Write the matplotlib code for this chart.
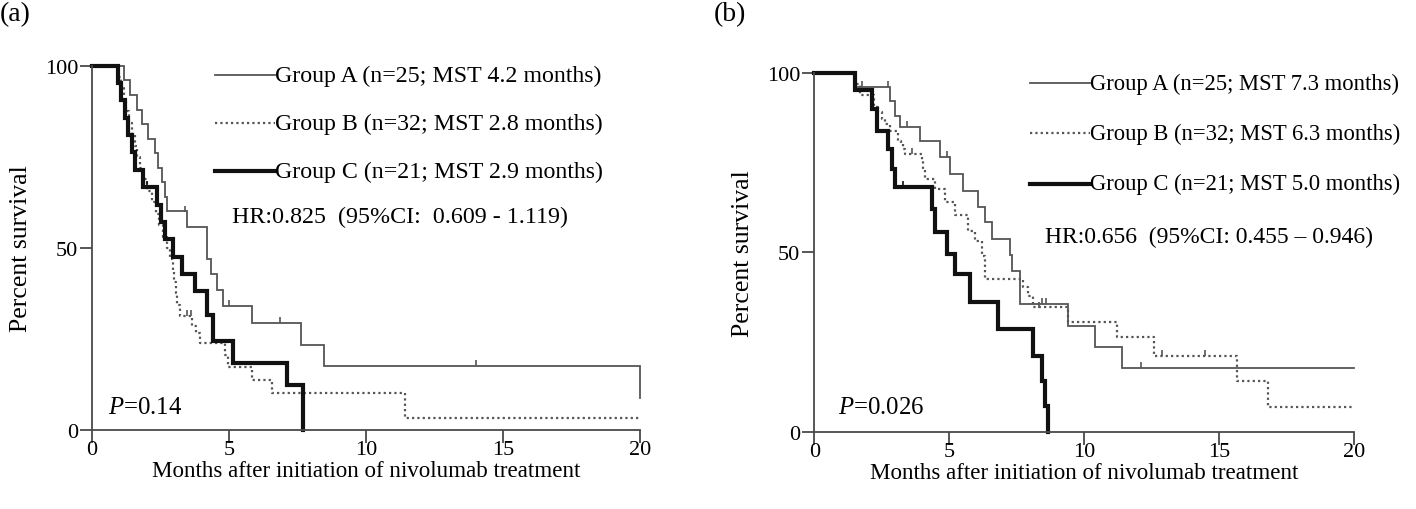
import numpy as np
import matplotlib
matplotlib.use('Agg')
import matplotlib.pyplot as plt

plt.rcParams['font.family'] = ['Liberation Serif', 'DejaVu Serif']
plt.rcParams['mathtext.fontset'] = 'custom'
plt.rcParams['mathtext.rm'] = 'Liberation Serif'
plt.rcParams['mathtext.it'] = 'Liberation Serif:italic'

# ---- panel (a) : step times (months) and survival (%) ----
a_A_time = [0, 1.18, 1.39, 1.65, 1.81, 2.06, 2.30, 2.40, 2.54, 2.66, 2.75, 3.45, 4.18, 4.35, 4.55, 4.79, 5.83, 7.62, 8.48, 20.0]
a_A_surv = [100, 96, 92, 88, 84, 80, 76, 72, 68, 64, 60, 55.6, 47.0, 42.7, 38.4, 34.1, 29.3, 23.4, 17.5, 8.8]
a_A_cens = [3.40, 5.01, 6.86, 14.0]

a_B_time = [0, 0.95, 1.05, 1.15, 1.25, 1.35, 1.45, 1.55, 1.65, 1.75, 1.85, 2.0, 2.2, 2.35, 2.45, 2.6, 2.75, 2.85,
            2.95, 3.0, 3.05, 3.1, 3.2, 3.65, 3.8, 3.95, 4.85, 4.97, 5.83, 6.56, 11.42, 20.0]
a_B_surv = [100, 96.9, 93.8, 90.6, 87.5, 84.4, 81.3, 78.1, 75.0, 71.9, 68.8, 65.6, 62.5, 59.4, 56.3, 53.1, 50.0, 46.9,
            43.8, 40.6, 37.5, 34.4, 31.3, 28.5, 26.5, 23.8, 20.5, 17.2, 13.8, 10.1, 3.2, 3.2]
a_B_cens = [3.45, 3.6]

a_C_time = [0, 0.95, 1.05, 1.2, 1.3, 1.45, 1.55, 1.87, 2.36, 2.5, 2.66, 2.97, 3.27, 3.76, 4.2, 4.4, 5.13, 7.1, 7.69]
a_C_surv = [100, 95.2, 90.5, 85.7, 81.0, 76.2, 71.4, 66.7, 61.9, 57.1, 52.4, 47.6, 42.9, 38.1, 31.5, 24.5, 18.5, 12.3, 0]
a_C_cens = [2.0]

# ---- panel (b) ----
b_A_time = [0, 1.48, 2.81, 3.0, 3.19, 3.93, 4.67, 5.04, 5.53, 6.09, 6.33, 6.58, 7.25, 7.35, 7.63, 9.42, 10.41, 11.4, 20.0]
b_A_surv = [100, 96, 92.3, 88.1, 84.9, 81.1, 76.5, 71.9, 67.2, 62.6, 58.4, 53.8, 49.4, 44.9, 35.7, 29.6, 23.6, 17.8, 17.8]
b_A_cens = [1.77, 2.75, 3.43, 4.91, 8.45, 8.6, 12.1]

b_B_time = [0, 1.50, 1.70, 2.20, 2.38, 2.51, 2.63, 2.81, 3.12, 3.20, 3.30, 3.37, 3.99, 4.05, 4.11, 4.48, 4.85, 5.22,
            5.70, 5.96, 6.21, 6.33, 7.75, 7.94, 8.12, 9.42, 11.21, 12.6, 15.66, 16.83, 20.0]
b_B_surv = [100, 96.9, 93.8, 90.6, 89.0, 87.2, 85.8, 83.9, 81.1, 80.2, 78.8, 77.4, 75.6, 73.3, 70.5, 67.7, 64.0, 60.3,
            56.1, 53.3, 49.1, 42.6, 40.3, 38.0, 34.7, 30.6, 26.4, 21.3, 14.3, 6.9, 6.9]
b_B_cens = [3.62, 8.35, 12.9, 14.5]

b_C_time = [0, 1.52, 2.14, 2.32, 2.75, 2.88, 3.0, 4.36, 4.48, 4.91, 5.22, 5.78, 6.83, 8.12, 8.45, 8.56, 8.65]
b_C_surv = [100, 95.2, 90.0, 83.9, 78.8, 73.3, 68.2, 62.1, 55.6, 49.6, 44.0, 36.1, 28.7, 21.3, 14.2, 7.1, 0]
b_C_cens = [3.3]

panels = [
    dict(tag='(a)',
         A=(a_A_time, a_A_surv, a_A_cens), B=(a_B_time, a_B_surv, a_B_cens), C=(a_C_time, a_C_surv, a_C_cens),
         legend=['Group A (n=25; MST 4.2 months)', 'Group B (n=32; MST 2.8 months)',
                 'Group C (n=21; MST 2.9 months)'],
         hr='HR:0.825  (95%CI:  0.609 - 1.119)', p='=0.14', leg_fs=17.2, hr_fs=17.3),
    dict(tag='(b)',
         A=(b_A_time, b_A_surv, b_A_cens), B=(b_B_time, b_B_surv, b_B_cens), C=(b_C_time, b_C_surv, b_C_cens),
         legend=['Group A (n=25; MST 7.3 months)', 'Group B (n=32; MST 6.3 months)',
                 'Group C (n=21; MST 5.0 months)'],
         hr='HR:0.656  (95%CI: 0.455 \u2013 0.946)', p='=0.026', leg_fs=16.3, hr_fs=17.0),
]

styles = {
    'A': dict(color='#555555', lw=1.3, ls='-'),
    'B': dict(color='#555555', lw=1.6, ls=(0, (1, 1.4))),
    'C': dict(color='#111111', lw=3.0, ls='-'),
}


def surv_at(t_arr, s_arr, t):
    idx = np.searchsorted(t_arr, t, side='right') - 1
    return s_arr[idx]


fig = plt.figure(figsize=(14.16, 5.10), dpi=100)
axes_pos = [[0.065, 0.155, 0.387, 0.714], [0.575, 0.151, 0.381, 0.704]]
legend_pos = [dict(x0=0.224, x1=0.334, ys=[0.975, 0.843, 0.71], hr=(0.255, 0.585), p=(0.03, 0.063)),
              dict(x0=0.400, x1=0.511, ys=[0.972, 0.833, 0.691], hr=(0.428, 0.546), p=(0.044, 0.07))]
tag_x = [0.0, 0.504]

for k, pan in enumerate(panels):
    ax = fig.add_axes(axes_pos[k])
    for g in ['A', 'B', 'C']:
        t, s, cens = pan[g]
        ax.step(t, s, where='post', solid_joinstyle='miter', clip_on=False, **styles[g])
        cy = [surv_at(t, s, c) for c in cens]
        ax.plot(cens, np.array(cy) + 0.8, ls='none', marker='|', ms=4, mew=1.2, color=styles[g]['color'])

    ax.set_xlim(0, 20)
    ax.set_ylim(0, 100)
    ax.set_xticks([0, 5, 10, 15, 20])
    ax.set_yticks([0, 50, 100])
    for side in ['top', 'right']:
        ax.spines[side].set_visible(False)
    for side in ['left', 'bottom']:
        ax.spines[side].set_color('#4a4a4a')
        ax.spines[side].set_linewidth(1.3)
    ax.tick_params(direction='out', length=9, width=1.3, color='#4a4a4a', labelsize=16)
    ax.tick_params(axis='x', pad=-2)
    ax.tick_params(axis='y', pad=1)
    ax.set_xlabel('Months after initiation of nivolumab treatment', fontsize=16.6, labelpad=1)
    ax.set_ylabel('Percent survival', fontsize=18.5, labelpad=9)

    lp = legend_pos[k]
    for g, y, txt in zip(['A', 'B', 'C'], lp['ys'], pan['legend']):
        ax.plot([lp['x0'], lp['x1']], [y, y], transform=ax.transAxes, clip_on=False, **styles[g])
        ax.text(lp['x1'], y, txt, transform=ax.transAxes, fontsize=pan['leg_fs'], va='center', ha='left')
    ax.text(lp['hr'][0], lp['hr'][1], pan['hr'], transform=ax.transAxes, fontsize=pan['hr_fs'],
            va='center', ha='left')
    ax.text(lp['p'][0], lp['p'][1], r'$\mathit{P}$' + pan['p'], transform=ax.transAxes, fontsize=17.8,
            va='center', ha='left')

    fig.text(tag_x[k], 0.995, pan['tag'], fontsize=20, va='top', ha='left')

fig.savefig('out.png', dpi=100)
